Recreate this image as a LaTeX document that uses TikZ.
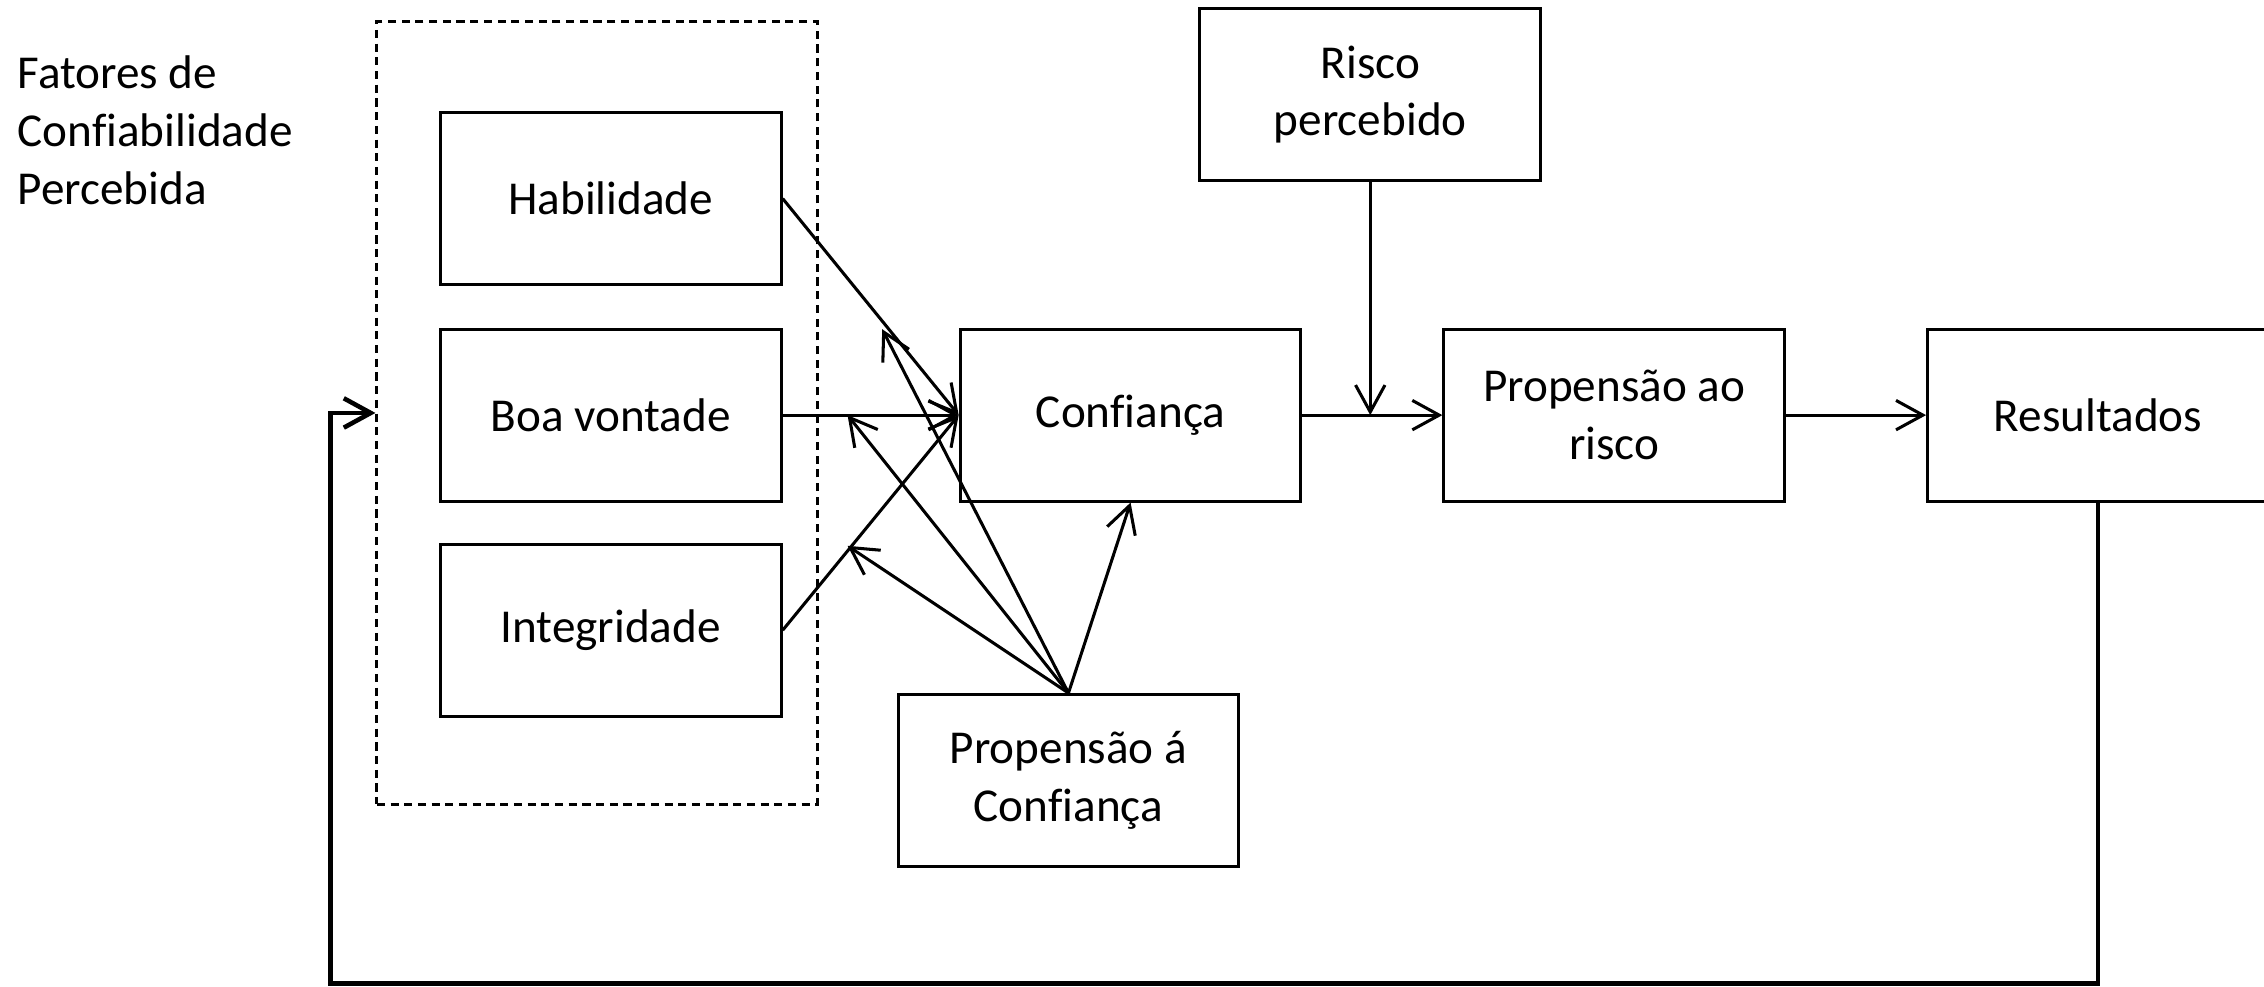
\documentclass[tikz,border=0pt]{standalone}
\usepackage{fontspec}
\setmainfont[Ligatures=NoCommon]{Carlito}
\usetikzlibrary{arrows.meta}
\tikzstyle{block}=[draw, line width=0.6pt, inner sep=0pt, minimum width=2.36cm, minimum height=1.19cm, align=center]
\tikzstyle{grupo}=[draw, line width=0.55pt, dash pattern=on 1.6pt off 1.1pt, minimum width=3.05cm, minimum height=5.42cm]
\tikzstyle{seta}=[->, line width=0.6pt]
\tikzstyle{retorno}=[->, line width=0.9pt]

\begin{document}
\begin{tikzpicture}[>={Straight Barb[length=5.3pt,width=5.8pt]}, font=\fontsize{9.3}{11.4}\selectfont]
        \useasboundingbox (0,0) rectangle (15.68,6.83);
        \node[grupo]                    (G) at (4.135, 3.97) {};
        \node[anchor=north west, inner sep=0pt, align=left] (titulo) at (0.115, 6.45) {Fatores de\\Confiabilidade\\Percebida};
        \node[block]                    (Hab) at (4.23, 5.455) {Habilidade};
        \node[block]                    (Boa) at (4.23, 3.955) {Boa vontade};
        \node[block]                    (Int) at (4.23, 2.465) {Integridade};
        \node[block]                    (Conf) at (7.83, 3.955) {Confiança};
        \node[block]                    (Risco) at (9.49, 6.175) {Risco\\percebido};
        \node[block]                    (PropRisco) at (11.18, 3.955) {Propensão ao\\risco};
        \node[block]                    (Res) at (14.53, 3.955) {Resultados};
        \node[block]                    (PropConf) at (7.40, 1.425) {Propensão á\\Confiança};
        \coordinate (mHab) at (6.11, 4.55);
        \coordinate (mBoa) at (5.87, 3.955);
        \coordinate (mInt) at (5.87, 3.05);
        \coordinate (mRisco) at (9.49, 3.955);
        \coordinate (canto) at (2.29, 0.02);
        \draw[seta] (Hab.east) -- (Conf.west);
        \draw[seta] (Boa.east) -- (Conf.west);
        \draw[seta] (Int.east) -- (Conf.west);
        \draw[seta] (PropConf.north) -- (mHab);
        \draw[seta] (PropConf.north) -- (mBoa);
        \draw[seta] (PropConf.north) -- (mInt);
        \draw[seta] (PropConf.north) -- (Conf.south);
        \draw[seta] (Conf.east) -- (PropRisco.west);
        \draw[seta] (Risco.south) -- (mRisco);
        \draw[seta] (PropRisco.east) -- (Res.west);
        \draw[retorno] (Res.south) |- (canto) |- (G.west);
    \end{tikzpicture}
\end{document}
